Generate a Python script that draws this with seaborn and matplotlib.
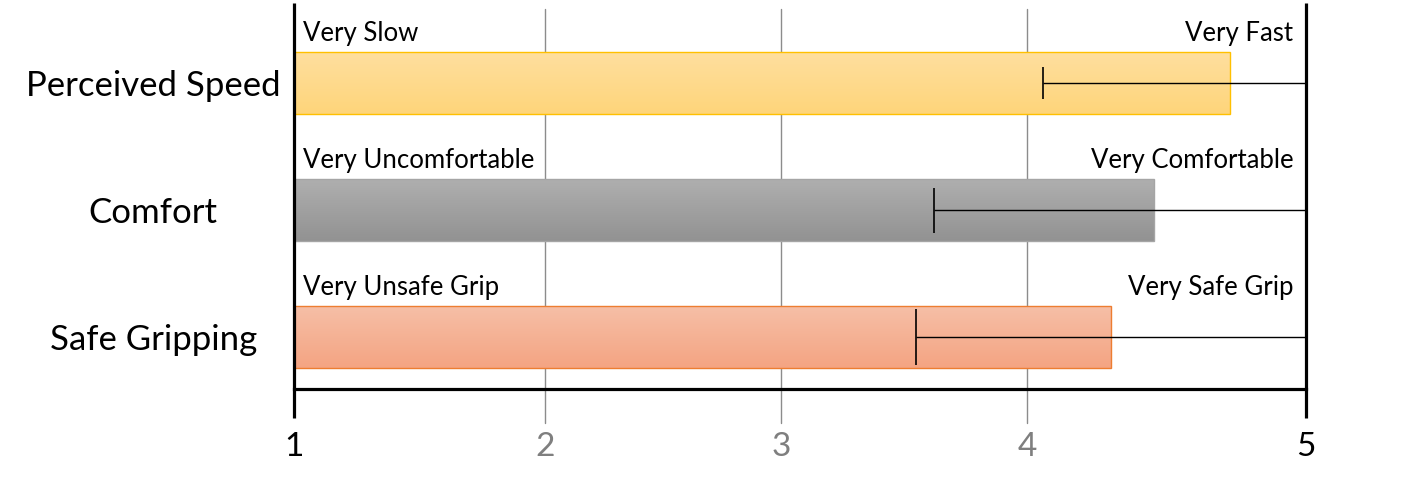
import numpy as np
import pandas as pd
import matplotlib
matplotlib.use("Agg")
import matplotlib.pyplot as plt
import matplotlib.colors as mcolors
import seaborn as sns

# ---------------- data ----------------
categories = ["Perceived Speed", "Comfort", "Safe Gripping"]
means = [4.70, 4.40, 4.23]
errors = [0.74, 0.87, 0.77]
low_labels = ["Very Slow", "Very Uncomfortable", "Very Unsafe Grip"]
high_labels = ["Very Fast", "Very Comfortable", "Very Safe Grip"]
tick_labels = ["1", "2", "3", "4", "5"]

# ---------------- layout / style ----------------
TICK_POS = [1.0, 1.993, 2.926, 3.899, 5.0]
TICK_COLORS = ["black", "#7F7F7F", "#7F7F7F", "#7F7F7F", "black"]
GRAD_TOP = ["#FFDF9F", "#AFAFAF", "#F6BFA7"]
GRAD_BOT = ["#FED57A", "#929292", "#F4A482"]
EDGE = ["#FFC000", "#A5A5A5", "#ED7D31"]
CAP_SIZES = [11.3, 16.2, 20.5]

sns.set_theme(style="white")
plt.rcParams["font.family"] = ["Lato", "DejaVu Sans"]

W, H = 1413, 495
fig = plt.figure(figsize=(W / 100, H / 100), dpi=100)
ax = fig.add_axes([294.3 / W, 1 - 389 / H, (1305.7 - 294.3) / W, 386 / H])

df = pd.DataFrame({"category": categories, "mean": means})
sns.barplot(data=df, y="category", x="mean", orient="h", ax=ax,
            width=0.488, color="white", errorbar=None)

ax.set_xlim(1, 5)
ax.set_ylim(2.413, -0.630)

# gradient fill for each bar
for i, p in enumerate(ax.patches):
    x0, y0 = p.get_x(), p.get_y()
    w, h = p.get_width(), p.get_height()
    c0 = np.array(mcolors.to_rgb(GRAD_TOP[i]))
    c1 = np.array(mcolors.to_rgb(GRAD_BOT[i]))
    t = np.linspace(0, 1, 256)[:, None, None]
    grad = c0[None, None, :] * (1 - t) + c1[None, None, :] * t
    ax.imshow(grad, extent=(x0, x0 + w, y0 + h, y0), origin="upper",
              aspect="auto", interpolation="bilinear", zorder=1)
    p.set_facecolor("none")
    p.set_edgecolor(EDGE[i])
    p.set_linewidth(1.0)
    p.set_zorder(2)

ax.set_xlim(1, 5)
ax.set_ylim(2.413, -0.630)

# error bars (lower cap visible, upper part clipped by the axis)
for i in range(len(categories)):
    ax.errorbar(means[i], i, xerr=errors[i], fmt="none", ecolor="black",
                elinewidth=1.0, capsize=CAP_SIZES[i], capthick=1.2, zorder=3)

# grid lines extending beyond the axes bottom
for pos in TICK_POS[1:-1]:
    ax.axvline(pos, ymin=-0.088, ymax=0.984, color="#8C8C8C", lw=1.0,
               clip_on=False, zorder=0.5)

# spines
for s in ["top", "left", "right"]:
    ax.spines[s].set_visible(False)
ax.spines["bottom"].set_color("black")
ax.spines["bottom"].set_linewidth(2.3)
for xa in [0, 1]:
    ax.plot([xa, xa], [-0.075, 1.0], transform=ax.transAxes, color="black",
            lw=2.3, clip_on=False, solid_capstyle="butt", zorder=5)

# ticks
ax.set_xticks(TICK_POS)
ax.set_xticklabels(tick_labels, fontsize=24)
for lbl, c in zip(ax.get_xticklabels(), TICK_COLORS):
    lbl.set_color(c)
ax.tick_params(axis="x", length=0, pad=31)
ax.set_yticks(range(len(categories)))
ax.set_yticklabels(categories, fontsize=25, color="black")
for lbl in ax.get_yticklabels():
    lbl.set_horizontalalignment("center")
ax.tick_params(axis="y", length=0, pad=101.5)
ax.set_xlabel("")
ax.set_ylabel("")

# scale end labels
for i in range(len(categories)):
    ax.annotate(low_labels[i], xy=(1, i), xytext=(6, 30),
                textcoords="offset points", ha="left", va="baseline",
                fontsize=18.5, color="black", annotation_clip=False)
    ax.annotate(high_labels[i], xy=(5, i), xytext=(-9, 30),
                textcoords="offset points", ha="right", va="baseline",
                fontsize=18.5, color="black", annotation_clip=False)

fig.savefig("out.png", dpi=100)
